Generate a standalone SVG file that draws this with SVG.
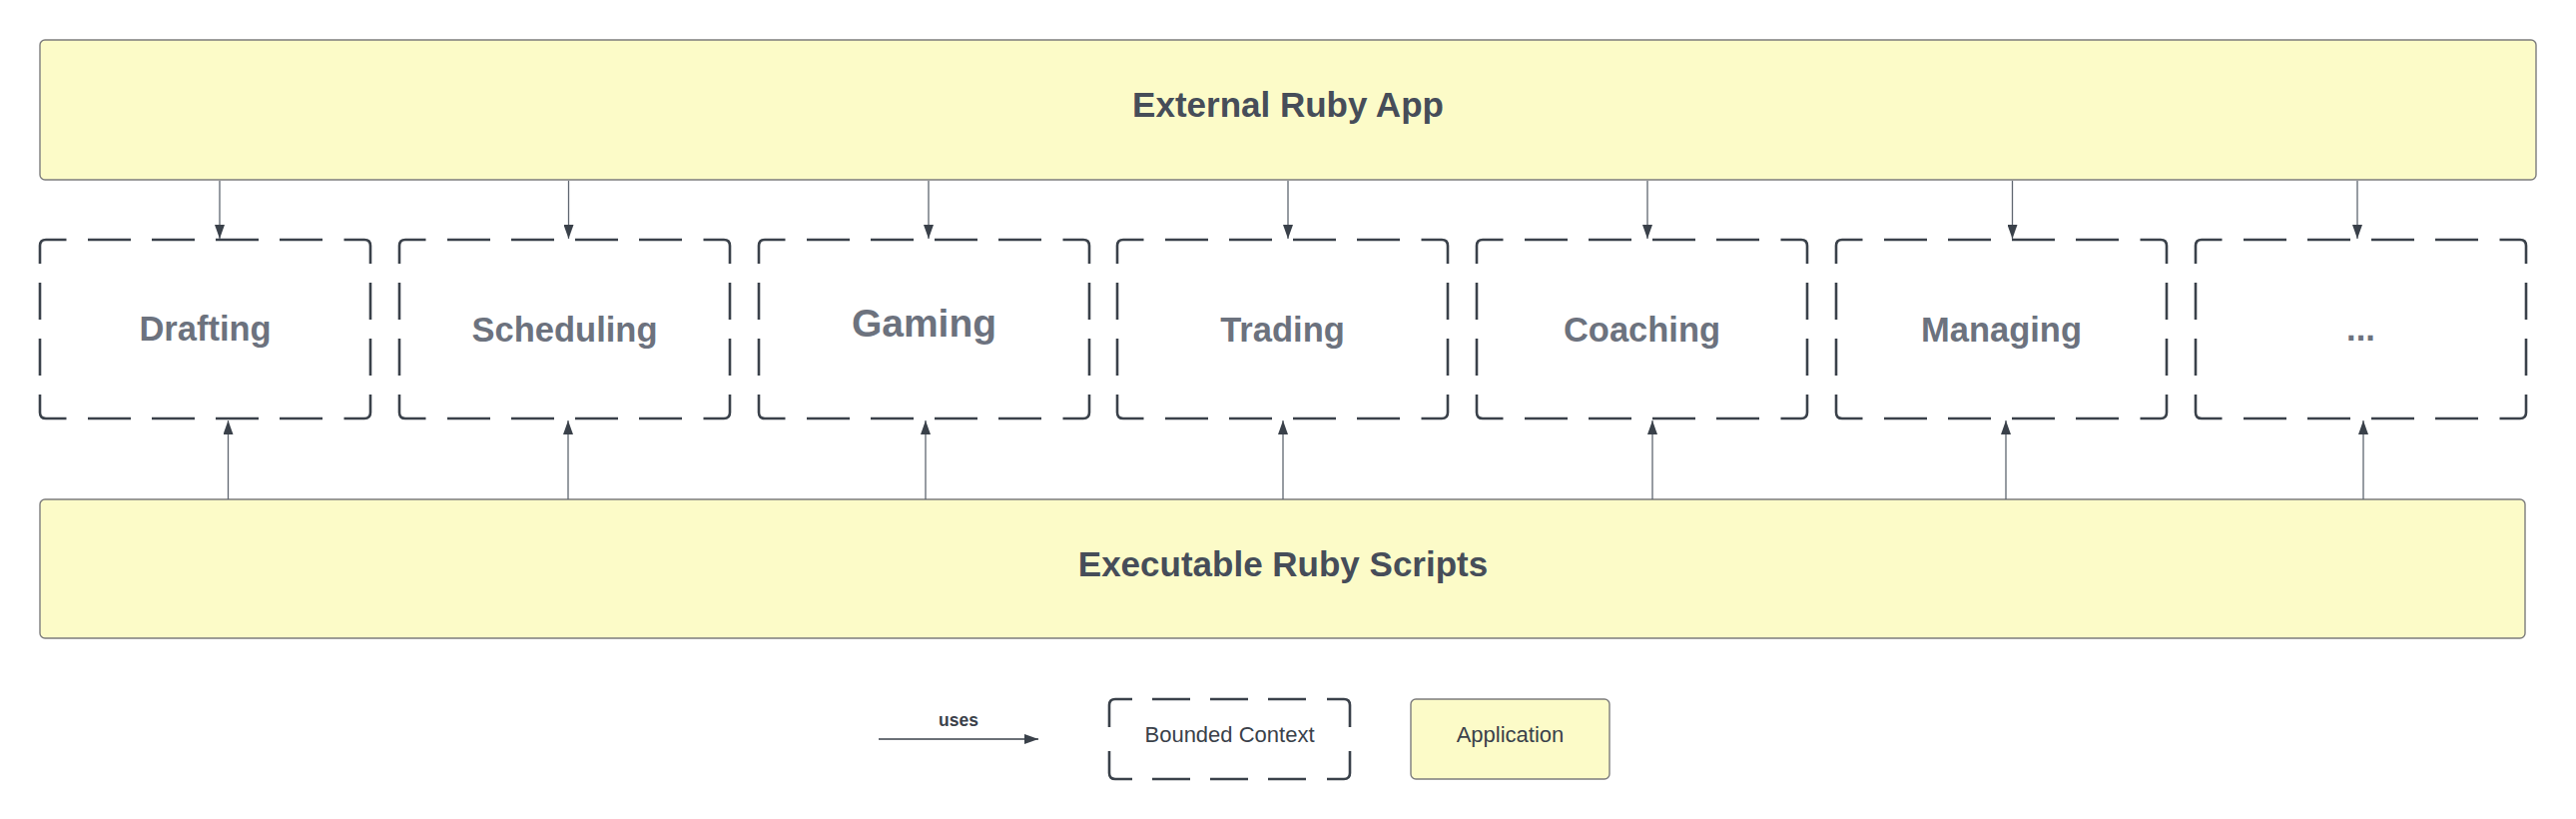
<svg xmlns="http://www.w3.org/2000/svg" xmlns:xlink="http://www.w3.org/1999/xlink" width="2580" height="820" viewBox="0 0 2580 820">
  <style>
    .app { fill: #fcfbc8; stroke: #7c7c7c; stroke-width: 1.4; }
    .dash { fill: none; stroke: #3a414a; stroke-width: 2.6; stroke-linecap: butt; }
    .title { font-family: "Liberation Sans", Arial, sans-serif; font-weight: bold; font-size: 35px; fill: #464d59; text-anchor: middle; }
    .label { font-family: "Liberation Sans", Arial, sans-serif; font-weight: bold; font-size: 34.5px; fill: #6c727e; text-anchor: middle; }
    .legend { font-family: "Liberation Sans", Arial, sans-serif; font-size: 22px; fill: #3a414a; text-anchor: middle; }
    .conn { stroke: #5f6670; stroke-width: 1.3; fill: none; }
  </style>
  <defs>
    <marker id="arr" viewBox="0 0 14 10" refX="14" refY="5" markerWidth="14" markerHeight="10" markerUnits="userSpaceOnUse" orient="auto">
      <path d="M0,0 L14,5 L0,10 z" fill="#3a414a"/>
    </marker>
    <path id="ctx" class="dash" d="M0,24 V6 Q0,0 6,0 H26.5 M48,0 H91 M112,0 H155 M176,0 H219 M240,0 H283 M304.5,0 H325 Q331,0 331,6 V24 M331,43 V80 M331,99 V136 M331,155 V173 Q331,179 325,179 H304.5 M283,179 H240 M219,179 H176 M155,179 H112 M91,179 H48 M26.5,179 H6 Q0,179 0,173 V155 M0,136 V99 M0,80 V43"/>
    <path id="ctxLegend" class="dash" d="M0,28 V6 Q0,0 6,0 H23 M43,0 H81 M101,0 H139 M159,0 H197 M218,0 H235 Q241,0 241,6 V28 M241,52 V74 Q241,80 235,80 H218 M197,80 H159 M139,80 H101 M81,80 H43 M23,80 H6 Q0,80 0,74 V52"/>
  </defs>

  <g id="external-ruby-app">
    <rect class="app" x="40" y="40" width="2500" height="140" rx="5"/>
    <text class="title" x="1290" y="117">External Ruby App</text>
  </g>

  <g id="drafting">
    <use xlink:href="#ctx" href="#ctx" x="40" y="240"/>
    <text class="label" x="205.5" y="341">Drafting</text>
  </g>
  <g id="scheduling">
    <use xlink:href="#ctx" href="#ctx" x="400" y="240"/>
    <text class="label" x="565.5" y="342">Scheduling</text>
  </g>
  <g id="gaming">
    <use xlink:href="#ctx" href="#ctx" x="760" y="240"/>
    <text class="label" x="925.5" y="337" style="font-size:39px">Gaming</text>
  </g>
  <g id="trading">
    <use xlink:href="#ctx" href="#ctx" x="1119" y="240"/>
    <text class="label" x="1284.5" y="342">Trading</text>
  </g>
  <g id="coaching">
    <use xlink:href="#ctx" href="#ctx" x="1479" y="240"/>
    <text class="label" x="1644.5" y="342">Coaching</text>
  </g>
  <g id="managing">
    <use xlink:href="#ctx" href="#ctx" x="1839" y="240"/>
    <text class="label" x="2004.5" y="342">Managing</text>
  </g>
  <g id="more">
    <use xlink:href="#ctx" href="#ctx" x="2199" y="240"/>
    <text class="label" x="2364.5" y="341">...</text>
  </g>

  <g id="executable-ruby-scripts">
    <rect class="app" x="40" y="500" width="2489" height="139" rx="5"/>
    <text class="title" x="1285" y="577">Executable Ruby Scripts</text>
  </g>

  <g id="connectors">
    <line class="conn" x1="220" y1="181" x2="220" y2="239" marker-end="url(#arr)"/>
    <line class="conn" x1="569.5" y1="181" x2="569.5" y2="239" marker-end="url(#arr)"/>
    <line class="conn" x1="930" y1="181" x2="930" y2="239" marker-end="url(#arr)"/>
    <line class="conn" x1="1290" y1="181" x2="1290" y2="239" marker-end="url(#arr)"/>
    <line class="conn" x1="1650" y1="181" x2="1650" y2="239" marker-end="url(#arr)"/>
    <line class="conn" x1="2015.5" y1="181" x2="2015.5" y2="239" marker-end="url(#arr)"/>
    <line class="conn" x1="2361" y1="181" x2="2361" y2="239" marker-end="url(#arr)"/>

    <line class="conn" x1="228.5" y1="500" x2="228.5" y2="421" marker-end="url(#arr)"/>
    <line class="conn" x1="569" y1="500" x2="569" y2="421" marker-end="url(#arr)"/>
    <line class="conn" x1="927" y1="500" x2="927" y2="421" marker-end="url(#arr)"/>
    <line class="conn" x1="1285" y1="500" x2="1285" y2="421" marker-end="url(#arr)"/>
    <line class="conn" x1="1655" y1="500" x2="1655" y2="421" marker-end="url(#arr)"/>
    <line class="conn" x1="2009" y1="500" x2="2009" y2="421" marker-end="url(#arr)"/>
    <line class="conn" x1="2367" y1="500" x2="2367" y2="421" marker-end="url(#arr)"/>
  </g>

  <g id="legend">
    <g id="legend-uses">
      <line x1="880" y1="740" x2="1040" y2="740" stroke="#3a414a" stroke-width="1.3" marker-end="url(#arr)"/>
      <text x="960" y="727" style="font-family:'Liberation Sans',Arial,sans-serif;font-weight:bold;font-size:17.5px;fill:#3a414a;text-anchor:middle">uses</text>
    </g>
    <g id="legend-bounded-context">
      <use xlink:href="#ctxLegend" href="#ctxLegend" x="1111" y="700"/>
      <text class="legend" x="1231.5" y="743">Bounded Context</text>
    </g>
    <g id="legend-application">
      <rect class="app" x="1413" y="700" width="199" height="80" rx="5"/>
      <text class="legend" x="1512.5" y="743">Application</text>
    </g>
  </g>
</svg>
